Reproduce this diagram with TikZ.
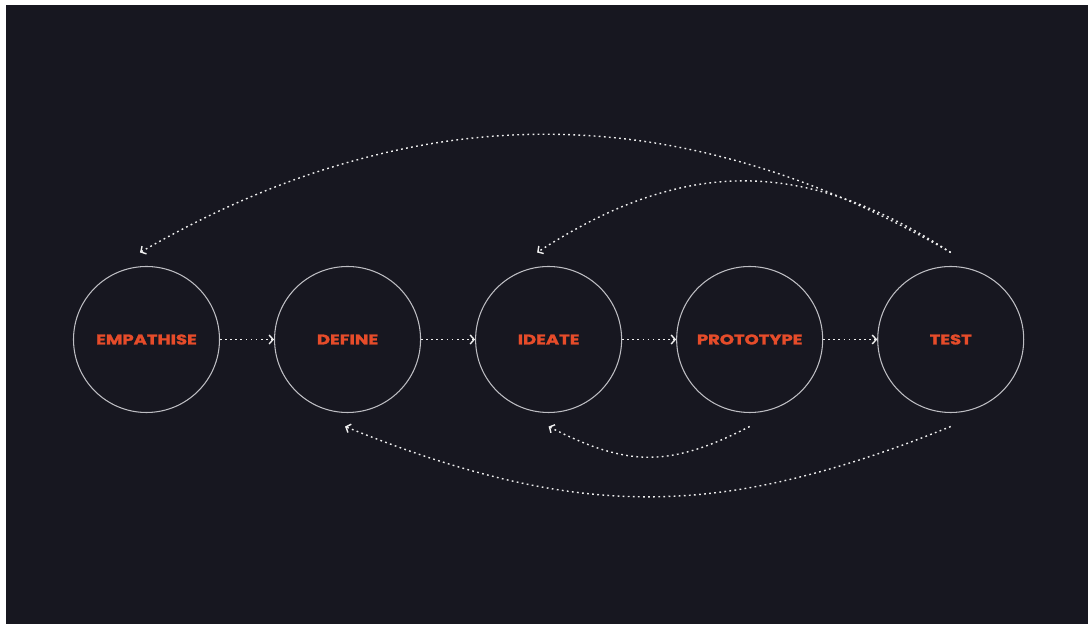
\documentclass[tikz,border=0pt]{standalone}
\usepackage{fontspec}
\usepackage{xcolor}
\usepackage{tikz}
\usetikzlibrary{arrows.meta,positioning}
\newfontfamily\stagefont[FakeStretch=1.28, FakeBold=1.6]{Poppins}
\definecolor{bgdark}{RGB}{23,23,32}
\definecolor{stagered}{RGB}{230,76,42}
\definecolor{ringgray}{RGB}{190,190,195}

\begin{document}
\begin{tikzpicture}[
    stage/.style={draw=ringgray, line width=0.6pt, circle, minimum size=2.92cm, inner sep=0pt,
                  font={\stagefont\bfseries\fontsize{8}{8}\selectfont}, text=stagered},
    flow/.style={-{Straight Barb[length=0.8mm, width=1.8mm]}, draw=white!88!gray, line width=0.8pt,
                 dash pattern=on 1pt off 1.9pt}
  ]
  \useasboundingbox (-2.93,-5.69) rectangle (18.83,6.79);
  \fill[white] (-2.93,-5.69) rectangle (18.83,6.79);
  \fill[bgdark] (-2.81,-5.69) rectangle (18.83,6.69);

  \node[stage] (empathise) at (0,0) {EMPATHISE};
  \node[stage, right=1.08cm of empathise] (define) {DEFINE};
  \node[stage, right=1.08cm of define] (ideate) {IDEATE};
  \node[stage, right=1.08cm of ideate] (prototype) {PROTOTYPE};
  \node[stage, right=1.08cm of prototype] (test) {TEST};

  \draw[flow] (empathise) -- (define);
  \draw[flow] (define) -- (ideate);
  \draw[flow] (ideate) -- (prototype);
  \draw[flow] (prototype) -- (test);

  % loops back
  \draw[flow] ([yshift=0.27cm]test.north) .. controls +(150:6.3) and +(30:6.3) .. ([xshift=-0.13cm, yshift=0.27cm]empathise.north);
  \draw[flow] ([yshift=0.27cm]test.north) .. controls +(147:3.5) and +(33:3.5) .. ([xshift=-0.23cm, yshift=0.27cm]ideate.north);
  \draw[flow] ([yshift=-0.27cm]prototype.south) .. controls +(-153:1.8) and +(-27:1.8) .. ([yshift=-0.27cm]ideate.south);
  \draw[flow] ([yshift=-0.27cm]test.south) .. controls +(-158:5.0) and +(-22:5.0) .. ([xshift=-0.05cm, yshift=-0.27cm]define.south);
\end{tikzpicture}
\end{document}
